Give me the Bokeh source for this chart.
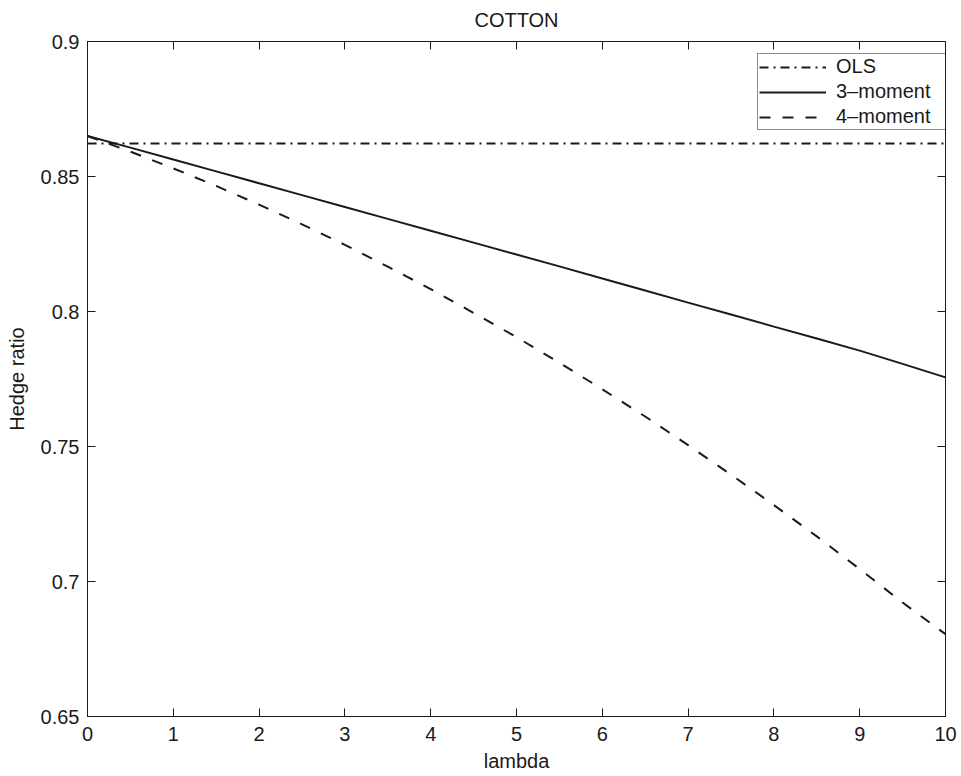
from bokeh.plotting import figure
from bokeh.models import (LinearAxis, FixedTicker, CustomJSTickFormatter, Range1d,
                          Legend, LegendItem)
from bokeh.embed import file_html
from bokeh.resources import INLINE

# ---- data ----
lam = [0, 0.5, 1, 1.5, 2, 2.5, 3, 3.5, 4, 4.5, 5, 5.5, 6, 6.5, 7, 7.5, 8, 8.5, 9, 9.5, 10]
ols_x = [0, 10]
ols_y = [0.8622, 0.8622]
m3 = [0.8650, 0.8607, 0.8563, 0.8519, 0.8475, 0.8431, 0.8387, 0.8343, 0.8299, 0.8255,
      0.8211, 0.8167, 0.8122, 0.8078, 0.8033, 0.7989, 0.7944, 0.7900, 0.7855, 0.7806, 0.7756]
m4 = [0.8650, 0.8592, 0.8530, 0.8465, 0.8396, 0.8323, 0.8247, 0.8166, 0.8083, 0.7995,
      0.7905, 0.7810, 0.7712, 0.7611, 0.7505, 0.7396, 0.7283, 0.7167, 0.7046, 0.6922, 0.6805]
x_ticks = [0, 1, 2, 3, 4, 5, 6, 7, 8, 9, 10]
y_ticks = [0.65, 0.7, 0.75, 0.8, 0.85, 0.9]
labels = ["OLS", "3\u2013moment", "4\u2013moment"]
title_text = "COTTON"

FONT = "Liberation Sans"
FS = "20px"
INK = "#1a1a1a"

p = figure(width=961, height=776, output_backend="svg", toolbar_location=None,
           x_range=Range1d(0, 10), y_range=Range1d(0.65, 0.9),
           min_border_left=87, min_border_right=16, min_border_top=41, min_border_bottom=60,
           x_axis_label="lambda", y_axis_label="Hedge ratio")
p.background_fill_color = "white"
p.border_fill_color = "white"
p.grid.visible = False
p.outline_line_color = INK
p.outline_line_width = 1

fmt = CustomJSTickFormatter(code="return String(Math.round(tick*100)/100);")
blank = CustomJSTickFormatter(code="return '';")

xb = p.xaxis[0]
yl = p.yaxis[0]
xb.ticker = FixedTicker(ticks=x_ticks)
yl.ticker = FixedTicker(ticks=y_ticks)
yl.formatter = fmt

# top axis carries the chart title as its label (centred over the frame)
top = LinearAxis(ticker=FixedTicker(ticks=x_ticks), formatter=blank, axis_label=title_text)
right = LinearAxis(ticker=FixedTicker(ticks=y_ticks), formatter=blank)
p.add_layout(top, "above")
p.add_layout(right, "right")

for ax in [xb, yl, top, right]:
    ax.major_tick_in = 8
    ax.major_tick_out = 0
    ax.minor_tick_in = 0
    ax.minor_tick_out = 0
    ax.axis_line_color = INK
    ax.major_tick_line_color = INK
    ax.major_label_text_font = FONT
    ax.major_label_text_font_size = FS
    ax.major_label_text_color = INK
    ax.axis_label_text_font = FONT
    ax.axis_label_text_font_size = FS
    ax.axis_label_text_font_style = "normal"
    ax.axis_label_text_color = INK

top.major_label_standoff = 0
top.axis_label_standoff = 11
right.major_label_standoff = 0

xb.major_label_standoff = 10
xb.axis_label_standoff = 6
yl.major_label_standoff = 8
yl.axis_label_standoff = 10

r_ols = p.line(ols_x, ols_y, line_color=INK, line_width=2, line_dash="9 5 2 5")
r_m3 = p.line(lam, m3, line_color=INK, line_width=2)
r_m4 = p.line(lam, m4, line_color=INK, line_width=2, line_dash="11 12")

legend = Legend(items=[LegendItem(label=labels[0], renderers=[r_ols]),
                       LegendItem(label=labels[1], renderers=[r_m3]),
                       LegendItem(label=labels[2], renderers=[r_m4])],
                location=(670, 586))
legend.border_line_color = INK
legend.border_line_width = 1
legend.background_fill_color = "white"
legend.background_fill_alpha = 1
legend.label_text_font = FONT
legend.label_text_font_size = FS
legend.label_text_color = INK
legend.glyph_width = 67
legend.glyph_height = 20
legend.label_height = 20
legend.label_width = 108
legend.label_standoff = 10
legend.spacing = 2
legend.padding = 1
legend.margin = 0
p.add_layout(legend, "center")

open("out.html", "w").write(file_html(p, INLINE))
